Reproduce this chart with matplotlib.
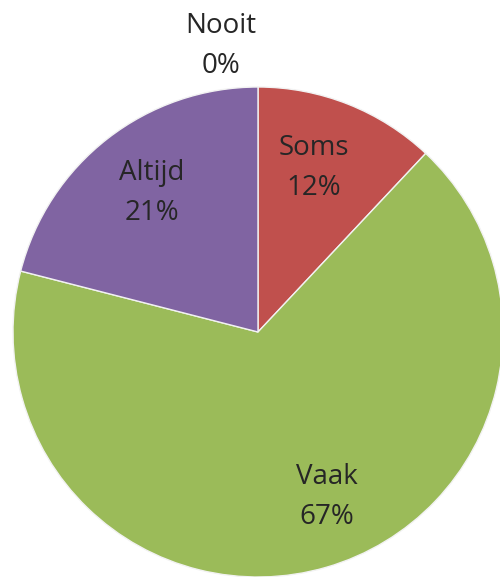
import matplotlib.pyplot as plt

# data
labels = ["Nooit", "Soms", "Vaak", "Altijd"]
values = [0, 12, 67, 21]
colors = ["#4F81BD", "#C0504D", "#9BBB59", "#8064A2"]

# label positions (data coords, pie radius = 1)
label_pos = [(-0.151, 1.167), (0.229, 0.669), (0.282, -0.673), (-0.433, 0.567)]

fig = plt.figure(figsize=(5, 5.77), dpi=100)
# pie centre at (258, 332) px, radius 245 px
ax = fig.add_axes([(258 - 245) / 500, 0, 490 / 500, 490 / 577])

ax.pie(
    values,
    colors=colors,
    startangle=90,
    counterclock=False,
    radius=1,
    wedgeprops=dict(edgecolor="#f2f2f2", linewidth=1),
)
ax.set_xlim(-1, 1)
ax.set_ylim(-1, 1)
ax.set_aspect("equal")
ax.axis("off")

total = sum(values)
for (x, y), lab, v in zip(label_pos, labels, values):
    ax.text(
        x, y, f"{lab}\n{round(100 * v / total)}%",
        ha="center", va="center", fontsize=20, color="#262626",
        family="Open Sans", linespacing=1.55,
    )

fig.savefig("out.png", dpi=100)
